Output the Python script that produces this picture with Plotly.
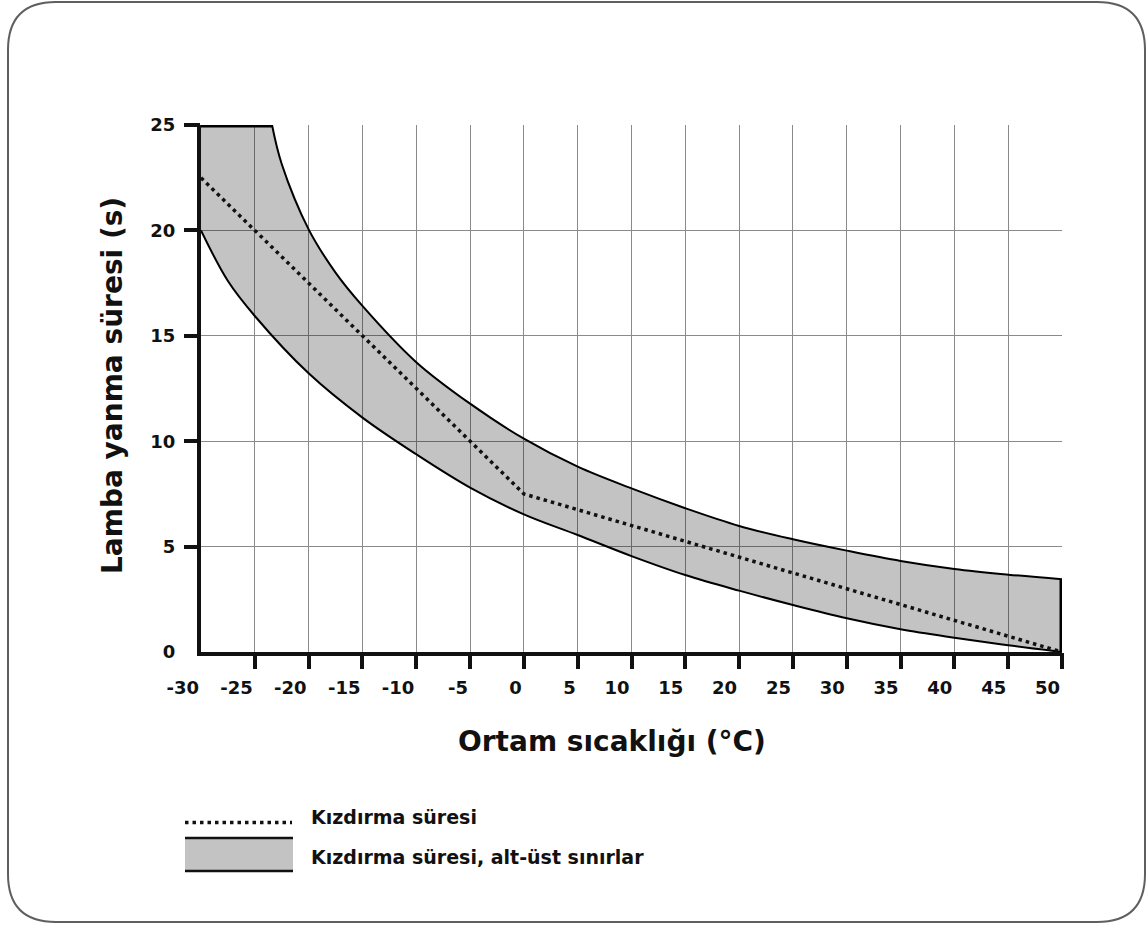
import plotly.graph_objects as go

# ---------------- data ----------------
temp_lower = [-30, -27.5, -25, -20, -15, -10, -5, 0, 5, 10, 15, 20, 25, 30, 35, 40, 45, 50]
time_lower = [20.0, 17.6, 15.94, 13.22, 11.12, 9.38, 7.8, 6.53, 5.55, 4.55, 3.65, 2.91, 2.23, 1.60, 1.08, 0.68, 0.32, 0.0]

temp_upper = [-23.4, -22.5, -20, -17.5, -15, -10, -5, 0, 5, 10, 15, 20, 25, 30, 35, 40, 45, 50]
time_upper = [25.0, 23.15, 20.05, 18.0, 16.42, 13.75, 11.78, 10.12, 8.79, 7.76, 6.82, 5.98, 5.35, 4.81, 4.32, 3.94, 3.67, 3.45]

temp_glow = [-30, 0, 50]
time_glow = [22.5, 7.5, 0.0]

x_ticks = [-30, -25, -20, -15, -10, -5, 0, 5, 10, 15, 20, 25, 30, 35, 40, 45, 50]
y_ticks = [0, 5, 10, 15, 20, 25]

x_title = "Ortam sıcaklığı (°C)"
y_title = "Lamba yanma süresi (s)"
legend_glow = "Kızdırma süresi"
legend_band = "Kızdırma süresi, alt-üst sınırlar"

# ---------------- layout geometry ----------------
W, H = 1146, 925
L, R, T, B = 201, 1062, 125, 652
PW, PH = R - L, B - T
FONT = "DejaVu Sans"
INK = "#111111"


def px(xp):
    return (xp - L) / PW


def py(yp):
    return (B - yp) / PH


fig = go.Figure()

# lower bound (also the base for the band fill)
fig.add_trace(go.Scatter(x=temp_lower, y=time_lower, mode="lines",
                         line=dict(color="black", width=2, shape="spline", smoothing=1),
                         hoverinfo="skip", showlegend=False))
# band fill (upper bound closed along the top of the chart)
fig.add_trace(go.Scatter(x=[temp_lower[0]] + temp_upper, y=[time_upper[0]] + time_upper,
                         mode="lines", line=dict(width=0),
                         fill="tonexty", fillcolor="rgba(0,0,0,0.235)",
                         hoverinfo="skip", showlegend=False))
# upper bound line
fig.add_trace(go.Scatter(x=temp_upper, y=time_upper, mode="lines",
                         line=dict(color="black", width=2, shape="spline", smoothing=1),
                         hoverinfo="skip", showlegend=False))
# thick top edge of the band (clipped at 25)
fig.add_trace(go.Scatter(x=[temp_lower[0], temp_upper[0]], y=[time_upper[0], time_upper[0]], mode="lines",
                         line=dict(color="black", width=5),
                         hoverinfo="skip", showlegend=False))
# thick right edge of the band
fig.add_trace(go.Scatter(x=[temp_lower[-1], temp_upper[-1]], y=[time_lower[-1], time_upper[-1]],
                         mode="lines", line=dict(color="black", width=5),
                         hoverinfo="skip", showlegend=False))
# glow time (dotted) - on the overlay axes that carry the tick marks
fig.add_trace(go.Scatter(x=temp_glow, y=time_glow, mode="lines", xaxis="x2", yaxis="y2",
                         line=dict(color=INK, width=3.5, dash="3.5px,4px"),
                         hoverinfo="skip", showlegend=False))

tickfont = dict(family=FONT, size=18, color=INK, weight="bold")

fig.update_layout(
    xaxis=dict(range=[-30, 50], tickmode="array", tickvals=x_ticks,
               ticktext=[str(v) for v in x_ticks],
               showgrid=True, gridcolor="#8a8a8a", gridwidth=1.2,
               showline=True, linecolor=INK, linewidth=4, zeroline=False,
               ticks="", ticklabelposition="outside left", ticklabelstandoff=16,
               tickfont=tickfont, fixedrange=True),
    yaxis=dict(range=[0, 25], tickmode="array", tickvals=y_ticks,
               ticktext=[str(v) for v in y_ticks],
               showgrid=True, gridcolor="#8a8a8a", gridwidth=1.2,
               showline=True, linecolor=INK, linewidth=4, zeroline=False,
               ticks="", ticklabelstandoff=18, tickfont=tickfont, fixedrange=True),
    # overlay axes: only tick marks (no marks at the corner)
    xaxis2=dict(range=[-30, 50], overlaying="x", anchor="y2", side="bottom",
                tickmode="array", tickvals=x_ticks[1:], ticks="outside",
                ticklen=16, tickwidth=4, tickcolor=INK, showticklabels=False,
                showgrid=False, showline=False, zeroline=False, fixedrange=True),
    yaxis2=dict(range=[0, 25], overlaying="y", anchor="x2", side="left",
                tickmode="array", tickvals=y_ticks[1:], ticks="outside",
                ticklen=16, tickwidth=4, tickcolor=INK, showticklabels=False,
                showgrid=False, showline=False, zeroline=False, fixedrange=True),
)

# rounded frame
l0, r0, t0, b0, rad = 8, 1145, 2, 922, 48
frame = (f"M {px(l0 + rad)} {py(t0)} L {px(r0 - rad)} {py(t0)} "
         f"Q {px(r0)} {py(t0)} {px(r0)} {py(t0 + rad)} "
         f"L {px(r0)} {py(b0 - rad)} Q {px(r0)} {py(b0)} {px(r0 - rad)} {py(b0)} "
         f"L {px(l0 + rad)} {py(b0)} Q {px(l0)} {py(b0)} {px(l0)} {py(b0 - rad)} "
         f"L {px(l0)} {py(t0 + rad)} Q {px(l0)} {py(t0)} {px(l0 + rad)} {py(t0)} Z")

shapes = [
    dict(type="path", xref="paper", yref="paper", path=frame,
         line=dict(color="#5f5f5f", width=2), layer="below"),
    # legend: dotted sample
    dict(type="line", xref="paper", yref="paper", x0=px(185), x1=px(292), y0=py(822.5), y1=py(822.5),
         line=dict(color=INK, width=3.5, dash="3.5px,4px")),
    # legend: band sample
    dict(type="rect", xref="paper", yref="paper", x0=px(185), x1=px(293), y0=py(871), y1=py(838),
         fillcolor="#c3c3c3", line=dict(width=0)),
    dict(type="line", xref="paper", yref="paper", x0=px(185), x1=px(293), y0=py(838), y1=py(838),
         line=dict(color=INK, width=2.5)),
    dict(type="line", xref="paper", yref="paper", x0=px(185), x1=px(293), y0=py(871), y1=py(871),
         line=dict(color=INK, width=2.5)),
]

annotations = [
    dict(text=x_title, xref="paper", yref="paper", x=px(612), y=py(741),
         xanchor="center", yanchor="middle", showarrow=False,
         font=dict(family=FONT, size=28, color=INK, weight="bold")),
    dict(text=y_title, xref="paper", yref="paper", x=px(112), y=py(386),
         xanchor="center", yanchor="middle", showarrow=False, textangle=-90,
         font=dict(family=FONT, size=28, color=INK, weight="bold")),
    dict(text=legend_glow, xref="paper", yref="paper", x=px(309), y=py(817),
         xanchor="left", yanchor="middle", showarrow=False,
         font=dict(family=FONT, size=19, color=INK, weight="bold")),
    dict(text=legend_band, xref="paper", yref="paper", x=px(309), y=py(857),
         xanchor="left", yanchor="middle", showarrow=False,
         font=dict(family=FONT, size=19, color=INK, weight="bold")),
]

fig.update_layout(
    width=W, height=H,
    margin=dict(l=L, r=W - R, t=T, b=H - B, pad=0),
    paper_bgcolor="white", plot_bgcolor="white",
    showlegend=False,
    shapes=shapes, annotations=annotations,
    font=dict(family=FONT),
)

fig.write_html("out.html", config={"displayModeBar": False},
               post_script="document.body.style.margin='0px';")
